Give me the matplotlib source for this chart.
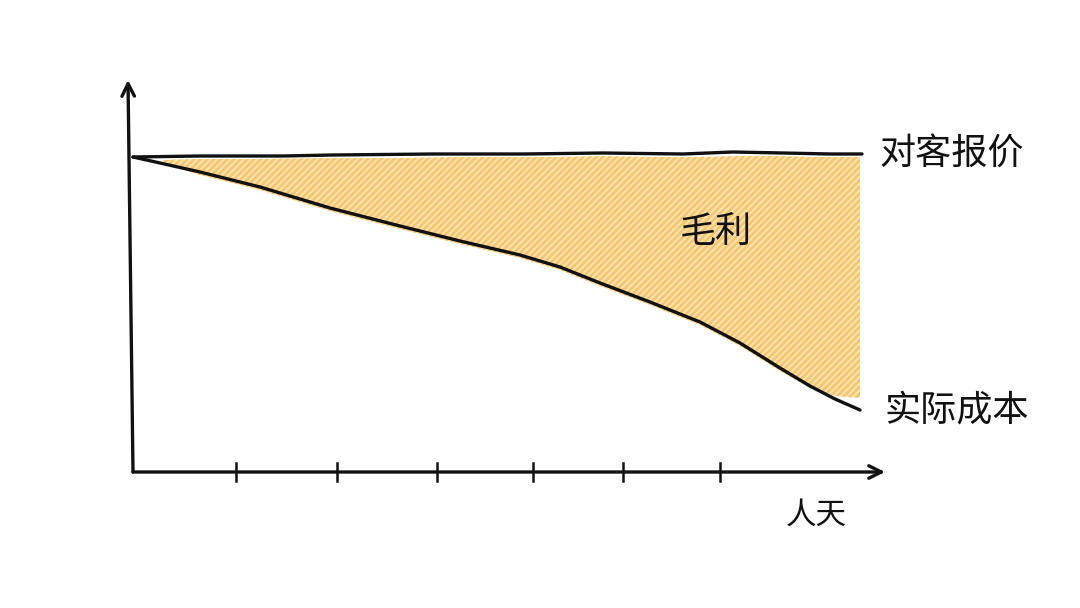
"""Sketch-style margin chart: quoted price vs. actual cost over person-days."""

import matplotlib

matplotlib.use("Agg")
import matplotlib.pyplot as plt

plt.rcParams["font.family"] = ["Noto Sans CJK SC", "DejaVu Sans"]
plt.rcParams["hatch.linewidth"] = 1.8
plt.rcParams["hatch.color"] = "#f7c467"

# person-days (x) and money (y)
price_days = [0.0, 0.67, 1.5, 2.0, 3.0, 3.9, 4.7, 5.5, 6.0, 6.5, 6.97, 7.29]
price = [3.15, 3.16, 3.16, 3.17, 3.18, 3.18, 3.19, 3.18, 3.20, 3.19, 3.18, 3.18]
cost_days = [0.0, 0.27, 0.67, 1.27, 1.97, 2.67, 3.27, 3.87, 4.27, 4.67,
             5.17, 5.67, 6.07, 6.47, 6.77, 7.02, 7.27]
cost = [3.15, 3.09, 3.00, 2.85, 2.64, 2.46, 2.31, 2.17, 2.05, 1.89,
        1.70, 1.50, 1.29, 1.04, 0.86, 0.73, 0.62]
tick_days = [1.03, 2.04, 3.04, 4.0, 4.9, 5.87]

# hatched margin area, drawn just inside the two lines
fill_days = [0.3, 0.67, 1.27, 1.97, 2.67, 3.27, 3.87, 4.27, 4.67,
             5.17, 5.67, 6.07, 6.47, 6.77, 7.02, 7.27]
fill_top = [3.12, 3.13, 3.13, 3.14, 3.14, 3.15, 3.15, 3.15, 3.16,
            3.15, 3.15, 3.16, 3.16, 3.15, 3.15, 3.15]
fill_bot = [3.09, 2.97, 2.82, 2.61, 2.43, 2.28, 2.14, 2.02, 1.86,
            1.67, 1.47, 1.26, 1.01, 0.84, 0.76, 0.74]

LINE = "#111111"
LW = 2.4

fig = plt.figure(figsize=(10.8, 6.08), dpi=100)
ax = fig.add_axes([0, 0, 1, 1])
ax.set_xlim(-1.33, 9.47)
ax.set_ylim(-1.36, 4.72)
ax.axis("off")

# margin area
ax.fill_between(fill_days, fill_bot, fill_top, facecolor="#fce2b2",
                edgecolor="#f7c467", hatch="/////", linewidth=0, zorder=1)

ax.plot(price_days, price, color=LINE, lw=LW, solid_capstyle="round", zorder=3)
ax.plot(cost_days, cost, color=LINE, lw=LW, solid_capstyle="round",
        solid_joinstyle="round", zorder=3)

# hand-drawn axes with open arrowheads
arrow = dict(arrowstyle="->,head_length=0.9,head_width=0.45", color=LINE, lw=LW,
             shrinkA=0, shrinkB=0)
ax.annotate("", xy=(7.52, 0.0), xytext=(0.0, 0.0), arrowprops=arrow)
ax.annotate("", xy=(-0.05, 3.92), xytext=(0.0, 0.0), arrowprops=arrow)
for t in tick_days:
    ax.plot([t, t], [-0.09, 0.09], color=LINE, lw=1.8, zorder=3)

ax.text(7.46, 3.17, "对客报价", fontsize=26, ha="left", va="center", color=LINE)
ax.text(7.51, 0.62, "实际成本", fontsize=26, ha="left", va="center", color=LINE)
ax.text(5.83, 2.40, "毛利", fontsize=26, ha="center", va="center", color=LINE)
ax.text(6.83, -0.43, "人天", fontsize=22, ha="center", va="center", color=LINE)

fig.savefig("out.png", dpi=100, facecolor="white")
